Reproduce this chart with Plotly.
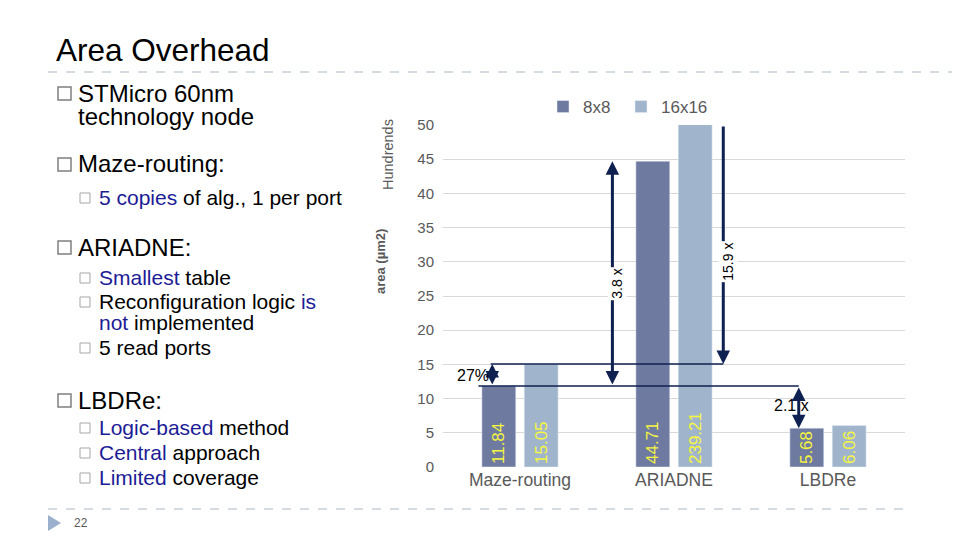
import plotly.graph_objects as go

categories = ["Maze-routing", "ARIADNE", "LBDRe"]
area_8x8 = [11.84, 44.71, 5.68]
area_16x16 = [15.05, 239.21, 6.06]
y_ticks = [0, 5, 10, 15, 20, 25, 30, 35, 40, 45, 50]

W, H = 960, 540
OFF = 8  # page body margin of the html page
navy = "#0f2150"
blue_txt = "#1c1c96"


def px(x):
    return (x - OFF) / W


def py(y):
    return 1 - (y - OFF) / H


fig = go.Figure()
fig.add_trace(go.Bar(x=categories, y=area_8x8, name="8x8", marker_color="#6f7aa0",
                     text=[f"{v:.2f}" for v in area_8x8], textposition="inside",
                     insidetextanchor="start", textangle=-90, legend="legend",
                     textfont=dict(color="#f5f542", size=17), hoverinfo="skip"))
fig.add_trace(go.Bar(x=categories, y=area_16x16, name="16x16", marker_color="#a0b5cc",
                     text=[f"{v:.2f}" for v in area_16x16], textposition="inside",
                     insidetextanchor="start", textangle=-90, legend="legend2",
                     textfont=dict(color="#f5f542", size=17), hoverinfo="skip"))

ann = []
shapes = []

# slide title and bullets
ann.append(dict(text="Area Overhead", x=px(54), y=py(50), xref="paper", yref="paper",
                xanchor="left", yanchor="middle", showarrow=False,
                font=dict(size=31.5, color="#000000")))

lvl1 = [("STMicro 60nm", 93), ("Maze-routing:", 164), ("ARIADNE:", 247), ("LBDRe:", 400)]
lvl1_extra = [("technology node", 117)]
lvl2 = [
    (f"<span style='color:{blue_txt}'>5 copies</span> of alg., 1 per port", 197, True),
    (f"<span style='color:{blue_txt}'>Smallest</span> table", 277, True),
    (f"Reconfiguration logic <span style='color:{blue_txt}'>is</span>", 301, True),
    (f"<span style='color:{blue_txt}'>not</span> implemented", 322, False),
    ("5 read ports", 347, True),
    (f"<span style='color:{blue_txt}'>Logic-based</span> method", 427, True),
    (f"<span style='color:{blue_txt}'>Central</span> approach", 452, True),
    (f"<span style='color:{blue_txt}'>Limited</span> coverage", 477, True),
]

for t, yy in lvl1:
    ann.append(dict(text=t, x=px(76), y=py(yy), xref="paper", yref="paper",
                    xanchor="left", yanchor="middle", showarrow=False,
                    font=dict(size=24, color="#000000")))
    shapes.append(dict(type="rect", xref="paper", yref="paper",
                       x0=px(58), x1=px(71), y0=py(yy - 6), y1=py(yy + 7),
                       line=dict(color="#7f7f7f", width=1.5)))
for t, yy in lvl1_extra:
    ann.append(dict(text=t, x=px(76), y=py(yy), xref="paper", yref="paper",
                    xanchor="left", yanchor="middle", showarrow=False,
                    font=dict(size=24, color="#000000")))
for t, yy, bullet in lvl2:
    ann.append(dict(text=t, x=px(97), y=py(yy), xref="paper", yref="paper",
                    xanchor="left", yanchor="middle", showarrow=False,
                    font=dict(size=21, color="#000000")))
    if bullet:
        shapes.append(dict(type="rect", xref="paper", yref="paper",
                           x0=px(80), x1=px(90), y0=py(yy - 4), y1=py(yy + 6),
                           line=dict(color="#a6a6a6", width=1)))

# footer
ann.append(dict(text="22", x=px(72), y=py(523), xref="paper", yref="paper",
                xanchor="left", yanchor="middle", showarrow=False,
                font=dict(size=12, color="#595959")))
shapes.append(dict(type="path", xref="paper", yref="paper",
                   path=f"M {px(48)} {py(515)} L {px(48)} {py(531)} L {px(61)} {py(523)} Z",
                   fillcolor="#9bb0cc", line=dict(width=0)))
shapes.append(dict(type="line", xref="paper", yref="paper", x0=px(48), x1=px(968),
                   y0=py(72), y1=py(72), line=dict(color="#a9b7c6", width=1, dash="dash")))
shapes.append(dict(type="line", xref="paper", yref="paper", x0=px(48), x1=px(912),
                   y0=py(509), y1=py(509), line=dict(color="#a9b7c6", width=1, dash="dash")))

# axis titles
ann.append(dict(text="Hundrends", x=px(388), y=py(155), xref="paper", yref="paper",
                xanchor="center", yanchor="middle",
                textangle=-90, showarrow=False, font=dict(size=14.5, color="#595959")))
ann.append(dict(text="<b>area (µm2)</b>", x=px(381), y=py(262), xref="paper", yref="paper",
                xanchor="center", yanchor="middle",
                textangle=-90, showarrow=False, font=dict(size=13, color="#595959")))

# comparison lines and arrows
shapes.append(dict(type="line", xref="x", yref="y", x0=-0.19, x1=1.32,
                   y0=area_16x16[0], y1=area_16x16[0], line=dict(color=navy, width=1.5)))
shapes.append(dict(type="line", xref="x", yref="y", x0=-0.27, x1=1.81,
                   y0=area_8x8[0], y1=area_8x8[0], line=dict(color=navy, width=1.5)))


def arrow(x, y_from, y_to, both):
    return dict(x=x, y=y_to, ax=x, ay=y_from, xref="x", yref="y", axref="x", ayref="y",
                text="", showarrow=True, arrowhead=2, arrowsize=0.9, arrowwidth=3,
                arrowcolor=navy, arrowside="end+start" if both else "end",
                startarrowhead=2, startarrowsize=0.9)


ann.append(arrow(-0.18, area_8x8[0], area_16x16[0], True))
ann.append(arrow(0.60, area_8x8[0], area_8x8[1], True))
ann.append(arrow(1.32, 50, area_16x16[0], False))
ann.append(arrow(1.81, area_8x8[0], area_8x8[2], True))

ann.append(dict(text="27%", x=-0.19, y=13.45, xref="x", yref="y", xanchor="right",
                showarrow=False, font=dict(size=16, color="#000000")))
ann.append(dict(text="3.8 x", x=0.63, y=26.8, xref="x", yref="y", textangle=-90,
                showarrow=False, bgcolor="#ffffff", font=dict(size=14, color="#000000")))
ann.append(dict(text="15.9 x", x=1.35, y=30.0, xref="x", yref="y", textangle=-90,
                showarrow=False, bgcolor="#ffffff", font=dict(size=14, color="#000000")))
ann.append(dict(text="2.1 x", x=1.76, y=9.06, xref="x", yref="y",
                showarrow=False, font=dict(size=16, color="#000000")))

legend_style = dict(orientation="h", y=py(107), xanchor="left", yanchor="middle",
                    font=dict(size=17, color="#595959"), bgcolor="rgba(0,0,0,0)",
                    itemwidth=30)

fig.update_layout(
    width=W, height=H,
    margin=dict(l=0, r=0, t=0, b=0, autoexpand=False),
    paper_bgcolor="#ffffff", plot_bgcolor="#ffffff",
    font=dict(family="Liberation Sans, Arial, sans-serif", color="#595959"),
    barmode="group", bargap=0.45, bargroupgap=0.2,
    showlegend=True,
    legend=dict(x=px(543), **legend_style),
    legend2=dict(x=px(621), **legend_style),
    xaxis=dict(domain=[px(443), px(905)], showgrid=False, showline=False, ticks="",
               tickfont=dict(size=17.5, color="#595959"), fixedrange=True, automargin=False),
    yaxis=dict(domain=[py(467), py(125)], range=[0, 50], tickvals=y_ticks,
               showgrid=True, gridcolor="#d9d9d9", gridwidth=1, zeroline=False,
               showline=False, ticks="", tickfont=dict(size=15, color="#595959"),
               ticklabelstandoff=8, automargin=False),
    annotations=ann,
    shapes=shapes,
)

fig.write_html("out.html")
